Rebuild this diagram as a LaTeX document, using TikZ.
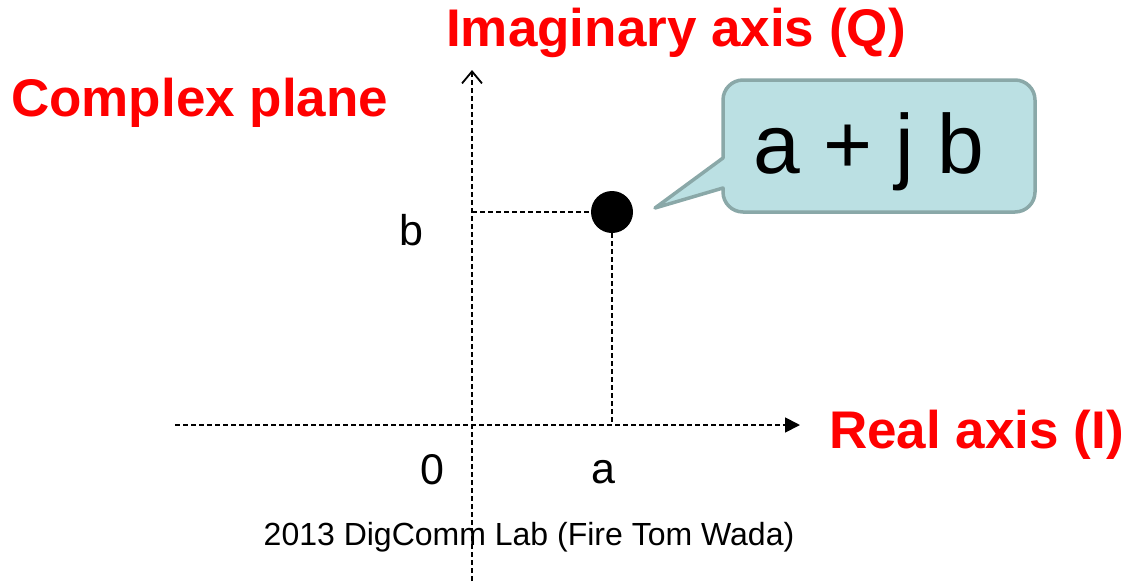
\documentclass[tikz,border=0pt]{standalone}
\usepackage{fontspec}
\setmainfont{Liberation Sans}
\usetikzlibrary{arrows.meta}
\definecolor{calloutfill}{HTML}{BBE0E3}
\definecolor{calloutdraw}{HTML}{8AA8A8}
\begin{document}
\begin{tikzpicture}[x=1pt,y=-1pt,
  axisline/.style={line width=1.8pt, dash pattern=on 5pt off 3pt},
  guideline/.style={line width=1.6pt, dash pattern=on 5pt off 3pt},
  redtitle/.style={text=red, font=\fontsize{53}{60}\selectfont\bfseries, inner sep=0pt},
  ticklabel/.style={font=\fontsize{43}{48}\selectfont, inner sep=0pt},
]
\useasboundingbox (0,0) rectangle (1126,581);
% axes
\coordinate (hstart) at (175,425);
\coordinate (hend) at (800,425);
\coordinate (vstart) at (472,581);
\coordinate (vend) at (472,70);
\draw[axisline, -{Triangle[length=15pt,width=15pt]}] (hstart) -- (hend);
\draw[axisline, -{Straight Barb[length=12pt,width=20pt,line width=1.8pt]}] (vstart) -- (vend);
% point
\node[circle, fill=black, minimum size=42pt, inner sep=0pt] (pt) at (612,212) {};
\coordinate (bproj) at (472,212);
\coordinate (aproj) at (612,425);
\draw[guideline] (bproj) -- (pt.west);
\draw[guideline] (pt.south) -- (aproj);
% callout
\filldraw[fill=calloutfill, draw=calloutdraw, line width=3.5pt, line join=round]
  (723,158) -- (655,208) -- (723,188)
  [rounded corners=20pt] -- (723,212) -- (1035,212) -- (1035,80) -- (723,80) [sharp corners] -- cycle;
\node[font=\fontsize{84}{90}\selectfont, inner sep=0pt] (cz) at (869,152) {a + j b};
% labels
\node[redtitle] (imag) at (676,33) {Imaginary axis (Q)};
\node[redtitle, anchor=west] (cplx) at (11,103) {Complex plane};
\node[redtitle, anchor=west] (real) at (829,435) {Real axis (I)};
\node[ticklabel] (lb) at (411,230) {b};
\node[ticklabel] (l0) at (432,470) {0};
\node[ticklabel] (la) at (603,472) {a};
\node[font=\fontsize{32}{36}\selectfont, inner sep=0pt] (foot) at (529,537) {2013 DigComm Lab (Fire Tom Wada)};
\end{tikzpicture}
\end{document}
